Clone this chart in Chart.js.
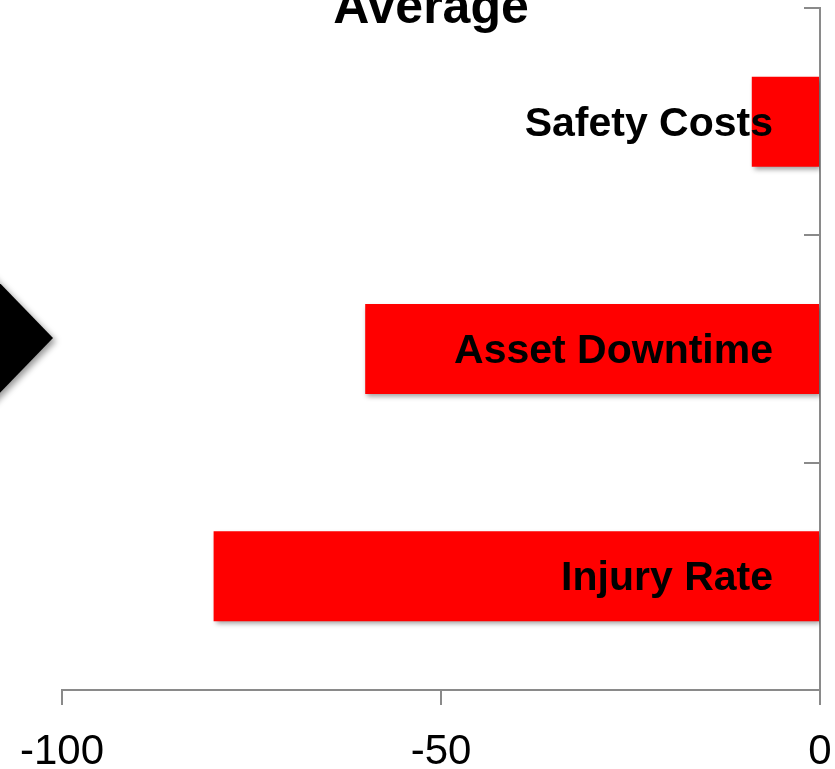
<!DOCTYPE html>
<html>
<head>
<meta charset="utf-8">
<script src="https://cdn.jsdelivr.net/npm/chart.js@4"></script>
<style>
  html, body { margin: 0; padding: 0; background: #fff; overflow: hidden; }
  #wrap { width: 835px; height: 769px; }
</style>
</head>
<body>
<div id="wrap"><canvas id="c" width="835" height="769"></canvas></div>
<script>
const categories = ['Safety Costs', 'Asset Downtime', 'Injury Rate'];
const averageValues = [-9, -60, -80];
const xTickValues = [-100, -50, 0];
const chartTitle = 'Average';

const FONT = "'Liberation Sans', Arial, sans-serif";
const AXIS_GRAY = '#8a8a8a';

const decorPlugin = {
  id: 'decor',
  beforeDatasetsDraw(chart) {
    const ctx = chart.ctx;
    ctx.save();
    ctx.shadowColor = 'rgba(0,0,0,0.38)';
    ctx.shadowBlur = 5;
    ctx.shadowOffsetX = 2;
    ctx.shadowOffsetY = 3;
  },
  afterDatasetsDraw(chart) {
    const ctx = chart.ctx;
    ctx.restore();
    // labels inside bars, right aligned near the zero line
    const meta = chart.getDatasetMeta(0);
    ctx.save();
    ctx.fillStyle = '#000';
    ctx.font = "bold 41px " + FONT;
    ctx.textAlign = 'right';
    ctx.textBaseline = 'alphabetic';
    meta.data.forEach((el, i) => {
      ctx.fillText(categories[i], el.base - 46, el.y + 14);
    });
    ctx.restore();
  },
  afterDraw(chart) {
    const ctx = chart.ctx;
    // black arrow shape on the left edge
    ctx.save();
    ctx.shadowColor = 'rgba(0,0,0,0.4)';
    ctx.shadowBlur = 6;
    ctx.shadowOffsetX = 3;
    ctx.shadowOffsetY = 3;
    ctx.fillStyle = '#000';
    ctx.beginPath();
    ctx.moveTo(-100, 180);
    ctx.lineTo(53, 338);
    ctx.lineTo(-100, 496);
    ctx.closePath();
    ctx.fill();
    ctx.restore();
    // title
    ctx.save();
    ctx.fillStyle = '#000';
    ctx.font = "bold 50px " + FONT;
    ctx.textAlign = 'center';
    ctx.textBaseline = 'alphabetic';
    ctx.fillText(chartTitle, 431, 23);
    ctx.restore();
  }
};

new Chart(document.getElementById('c'), {
  type: 'bar',
  data: {
    labels: categories,
    datasets: [{
      data: averageValues,
      backgroundColor: '#ff0000',
      borderWidth: 0,
      categoryPercentage: 1,
      barPercentage: 0.396
    }]
  },
  options: {
    indexAxis: 'y',
    responsive: false,
    animation: false,
    devicePixelRatio: 1,
    layout: { padding: { left: 62, right: 15, top: 8, bottom: 0 } },
    plugins: {
      legend: { display: false },
      title: { display: false },
      tooltip: { enabled: false }
    },
    scales: {
      x: {
        type: 'linear',
        position: 'bottom',
        min: -100,
        max: 0,
        afterBuildTicks(scale) {
          scale.ticks = xTickValues.map(v => ({ value: v }));
        },
        afterFit(scale) {
          scale.height = 79;
          scale.paddingLeft = 62;
          scale.paddingRight = 15;
        },
        grid: {
          drawOnChartArea: false,
          drawTicks: true,
          tickLength: 15,
          color: AXIS_GRAY,
          lineWidth: 2
        },
        border: { display: true, color: AXIS_GRAY, width: 2 },
        ticks: {
          color: '#000',
          padding: 22,
          maxRotation: 0,
          font: { family: FONT, size: 42, weight: 'normal' }
        }
      },
      y: {
        type: 'category',
        position: { x: 0 },
        grid: {
          offset: true,
          drawOnChartArea: false,
          drawTicks: true,
          tickLength: 15,
          color: AXIS_GRAY,
          lineWidth: 2
        },
        border: { display: true, color: AXIS_GRAY, width: 2 },
        ticks: { display: false }
      }
    }
  },
  plugins: [decorPlugin]
});
</script>
</body>
</html>
